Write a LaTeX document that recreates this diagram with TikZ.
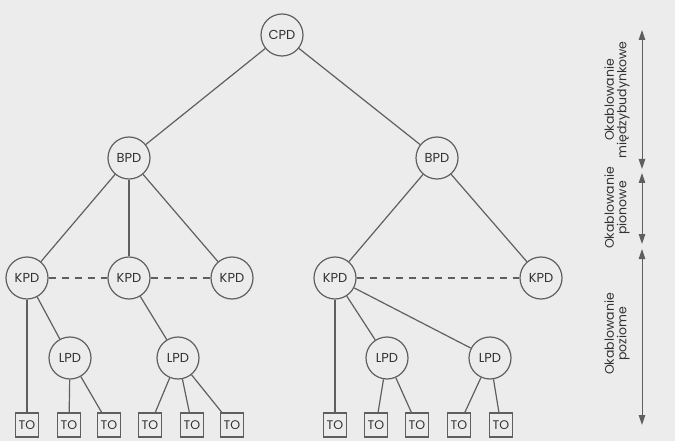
\documentclass[tikz,border=0pt]{standalone}
\usepackage{fontspec}
\setmainfont{Poppins}
\usetikzlibrary{arrows.meta}
\definecolor{bgc}{RGB}{236,236,236}
\definecolor{linec}{RGB}{95,95,95}
\definecolor{txtc}{RGB}{50,50,50}
\begin{document}
\begin{tikzpicture}[x=1pt,y=-1pt,
  pd/.style={circle, draw=linec, line width=1.2pt, minimum size=42pt, inner sep=0pt, text=txtc, font=\fontsize{13}{14}\selectfont},
  tobox/.style={rectangle, draw=linec, line width=1.2pt, minimum width=23pt, minimum height=24pt, inner sep=0pt, text=txtc, font=\fontsize{12.5}{14}\selectfont},
  link/.style={draw=linec, line width=1.2pt},
  peer/.style={draw=linec, line width=1.2pt, dash pattern=on 7pt off 6pt},
  span/.style={draw=linec, line width=1pt, {Triangle[length=10pt,width=6.5pt]}-{Triangle[length=10pt,width=6.5pt]}},
  lbl/.style={rotate=90, align=center, text=txtc, font=\fontsize{12.5}{12.5}\selectfont}]
\fill[bgc] (0,0) rectangle (675,441);
\useasboundingbox (0,0) rectangle (675,441);

\node[pd] (cpd) at (282,35) {CPD};
\node[pd] (bpd1) at (129,158) {BPD};
\node[pd] (bpd2) at (437,158) {BPD};

\node[pd] (kpd1) at (27,278) {KPD};
\node[pd] (kpd2) at (129,278) {KPD};
\node[pd] (kpd3) at (232,278) {KPD};
\node[pd] (kpd4) at (335,278) {KPD};
\node[pd] (kpd5) at (541,278) {KPD};

\node[pd] (lpd1) at (70,358) {LPD};
\node[pd] (lpd2) at (178,358) {LPD};
\node[pd] (lpd3) at (387,358) {LPD};
\node[pd] (lpd4) at (490,358) {LPD};

\node[tobox] (to1) at (27,425) {TO};
\node[tobox] (to2) at (69,425) {TO};
\node[tobox] (to3) at (109,425) {TO};
\node[tobox] (to4) at (150,425) {TO};
\node[tobox] (to5) at (192,425) {TO};
\node[tobox] (to6) at (232,425) {TO};
\node[tobox] (to7) at (335,425) {TO};
\node[tobox] (to8) at (376,425) {TO};
\node[tobox] (to9) at (417,425) {TO};
\node[tobox] (to10) at (459,425) {TO};
\node[tobox] (to11) at (501,425) {TO};

\draw[link] (cpd) -- (bpd1);
\draw[link] (cpd) -- (bpd2);
\draw[link] (bpd1) -- (kpd1);
\draw[link] (bpd1) -- (kpd2);
\draw[link] (bpd1) -- (kpd3);
\draw[link] (bpd2) -- (kpd4);
\draw[link] (bpd2) -- (kpd5);

\draw[peer] (kpd1) -- (kpd2);
\draw[peer] (kpd2) -- (kpd3);
\draw[peer] (kpd4) -- (kpd5);

\draw[link] (kpd1) -- (to1);
\draw[link] (kpd1) -- (lpd1);
\draw[link] (kpd2) -- (lpd2);
\draw[link] (lpd1) -- (to2);
\draw[link] (lpd1) -- (to3);
\draw[link] (lpd2) -- (to4);
\draw[link] (lpd2) -- (to5);
\draw[link] (lpd2) -- (to6);

\draw[link] (kpd4) -- (to7);
\draw[link] (kpd4) -- (lpd3);
\draw[link] (kpd4) -- (lpd4);
\draw[link] (lpd3) -- (to8);
\draw[link] (lpd3) -- (to9);
\draw[link] (lpd4) -- (to10);
\draw[link] (lpd4) -- (to11);

\coordinate (a0) at (642,30);
\coordinate (a1) at (642,169);
\coordinate (a2) at (642,173);
\coordinate (a3) at (642,244);
\coordinate (a4) at (642,249);
\coordinate (a5) at (642,425);
\draw[span] (a0) -- (a1);
\draw[span] (a2) -- (a3);
\draw[span] (a4) -- (a5);

\node[lbl] (l1) at (617,100) {Okablowanie\\międzybudynkowe};
\node[lbl] (l2) at (617,208) {Okablowanie\\pionowe};
\node[lbl] (l3) at (617,334) {Okablowanie\\poziome};
\end{tikzpicture}
\end{document}
